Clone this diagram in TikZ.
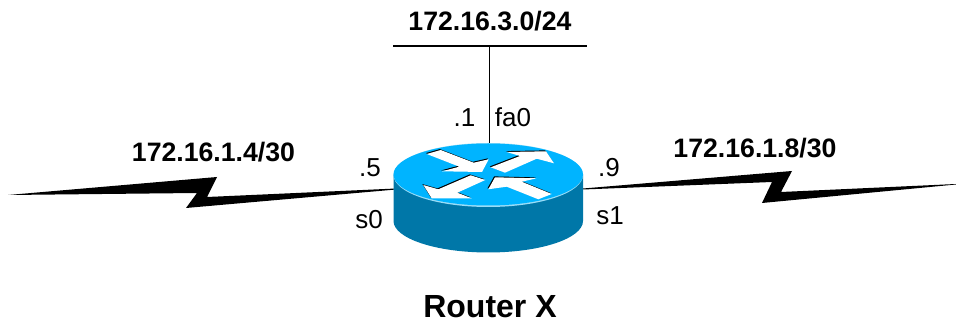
\documentclass[tikz,border=0pt]{standalone}
\usepackage{fontspec}
\setmainfont{Liberation Sans}
\definecolor{routertop}{HTML}{00B4FF}
\definecolor{routerside}{HTML}{0077A8}
\definecolor{routerrim}{HTML}{9BDDF7}
\tikzset{
  netlabel/.style={inner sep=0pt,anchor=base,font=\fontsize{20}{24}\selectfont\bfseries},
  portlabel/.style={inner sep=0pt,anchor=base,font=\fontsize{19.5}{23}\selectfont},
  wire/.style={draw=black,line width=1pt},
  turnarrow/.style={fill=white,draw=none},
  turnedge/.style={fill=black,draw=none,shift={(-0.9,-0.9)}},
}
\begin{document}
\begin{tikzpicture}[x=0.75pt,y=-0.75pt]
      \useasboundingbox (0,0) rectangle (956,323);
      \node[netlabel](lanlabel) at (490,31){172.16.3.0/24};
      \node[netlabel](leftlabel) at (213.5,162){172.16.1.4/30};
      \node[netlabel](rightlabel) at (755,158){172.16.1.8/30};
      \node[netlabel,font=\fontsize{24}{28}\selectfont\bfseries](routername) at (490,318){Router X};
      \node[portlabel](portone) at (464.5,127){.1};
      \node[portlabel](portfa) at (513,127){fa0};
      \node[portlabel](portfive) at (370,177){.5};
      \node[portlabel](portszero) at (369,229){s0};
      \node[portlabel](portnine) at (609,177){.9};
      \node[portlabel](portsone) at (610,225){s1};

      \coordinate (lanwest) at (393,46);
      \coordinate (laneast) at (587,46);
      \coordinate (lantap) at (489.5,46);
      \coordinate (routertop) at (489.5,144);
      \draw[wire] (lanwest) -- (laneast);
      \draw[wire] (lantap) -- (routertop);

      % serial links
      \fill (8,195) -- (217,177) -- (207,197) -- (396,188.5) -- (396,189.5) -- (186,208) -- (197,193) -- cycle;
      \fill (583,188.5) -- (792,171) -- (781,192) -- (956,184) -- (956,184.5) -- (762,203) -- (772,182) -- (583,189.5) -- cycle;

      % router body
      \fill[routerside] (393.5,174.5) -- (393.5,221) arc[start angle=180,end angle=0,x radius=94.75,y radius=31.5]
        -- (583,174.5) -- cycle;
      \fill[routerrim] (488.25,175) ellipse[x radius=94.75,y radius=32];
      \fill[routertop] (488.25,174.5) ellipse[x radius=94.75,y radius=31];

      % arrows on top
      \foreach \pts in {
        {(426.7,154) -- (440.7,150) -- (473.7,162.7) -- (488.7,159.3) -- (482,172) -- (442,171.3) -- (459.3,166.7)},
        {(490.7,167.3) -- (520,156) -- (506.7,152) -- (546,151.3) -- (554,163.3) -- (536.7,158.7) -- (505,172.7)},
        {(470.7,175.3) -- (485.3,180) -- (457.3,192.7) -- (471.7,198.3) -- (431.7,198.3) -- (423.3,185) -- (438.3,189.3)},
        {(495,177.3) -- (536.7,178.3) -- (521.7,181.7) -- (551.7,194) -- (538.3,199.3) -- (506.7,186.7) -- (488.3,189.3)}
      }{
        \fill[turnedge] \pts -- cycle;
        \fill[turnarrow] \pts -- cycle;
      }
    \end{tikzpicture}
\end{document}
